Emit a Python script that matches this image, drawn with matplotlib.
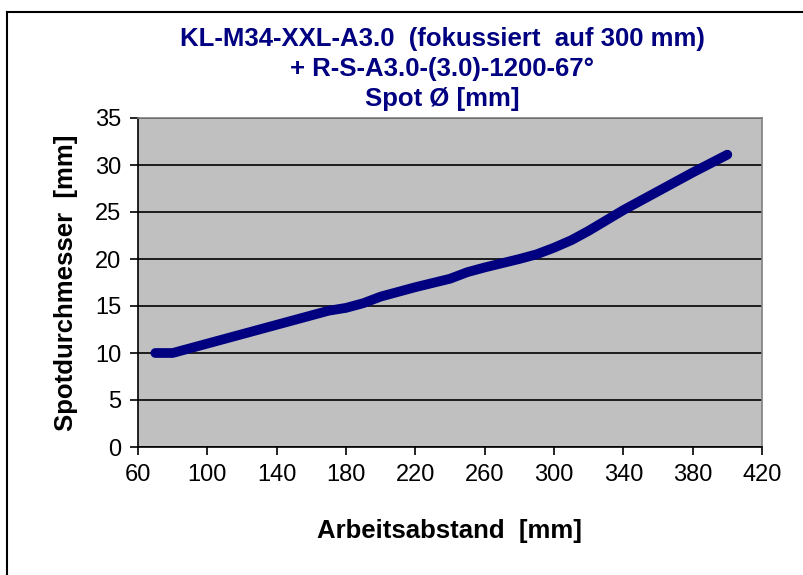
import matplotlib
matplotlib.use("Agg")
import matplotlib.pyplot as plt
from matplotlib.lines import Line2D

# Arbeitsabstand [mm] vs. Spotdurchmesser [mm]
abstand = [70, 80, 90, 100, 120, 140, 160, 170, 180, 190, 200, 220, 240, 250,
           260, 280, 290, 300, 310, 320, 340, 360, 380, 400]
spot = [10, 10, 10.5, 11, 12, 13, 14, 14.5, 14.8, 15.3, 16, 17, 17.9, 18.6,
        19.1, 20, 20.5, 21.2, 22, 23, 25.2, 27.2, 29.2, 31.1]

xticks = [60, 100, 140, 180, 220, 260, 300, 340, 380, 420]
yticks = [0, 5, 10, 15, 20, 25, 30, 35]

title = "KL-M34-XXL-A3.0  (fokussiert  auf 300 mm)\n+ R-S-A3.0-(3.0)-1200-67°\nSpot Ø [mm]"
navy = '#000080'

plt.rcParams['font.family'] = ['Liberation Sans', 'DejaVu Sans']

fig = plt.figure(figsize=(8.04, 5.75), dpi=100)
ax = fig.add_axes([138/804, 1-447/575, 624/804, 329/575])
ax.set_facecolor('#c0c0c0')

ax.plot(abstand, spot, color=navy, lw=7, solid_capstyle='round',
        solid_joinstyle='round', zorder=3)

ax.set_xlim(60, 420)
ax.set_ylim(0, 35)
ax.set_xticks(xticks)
ax.set_yticks(yticks)
ax.yaxis.grid(True, color='black', lw=1.2)
ax.set_axisbelow(True)
ax.tick_params(direction='out', length=6, width=1.2, labelsize=17, pad=6)

for s in ['top', 'right']:
    ax.spines[s].set_color('#808080')
    ax.spines[s].set_linewidth(1.2)
for s in ['left', 'bottom']:
    ax.spines[s].set_linewidth(1.2)

ax.set_xlabel('Arbeitsabstand  [mm]', fontsize=18.5, fontweight='bold', labelpad=24)
ax.set_ylabel('Spotdurchmesser  [mm]', fontsize=18.5, fontweight='bold', labelpad=12)

fig.text(442/804, 1-69/575, title, ha='center', va='center', fontsize=18.5,
         fontweight='bold', color=navy, linespacing=1.3)

# outer frame of the chart
fig.add_artist(Line2D([7/804, 7/804], [0, 1-12/575], transform=fig.transFigure,
                      color='black', lw=1.5))
fig.add_artist(Line2D([7/804, 1], [1-12/575, 1-12/575], transform=fig.transFigure,
                      color='black', lw=1.5))

fig.savefig('out.png', dpi=100)
